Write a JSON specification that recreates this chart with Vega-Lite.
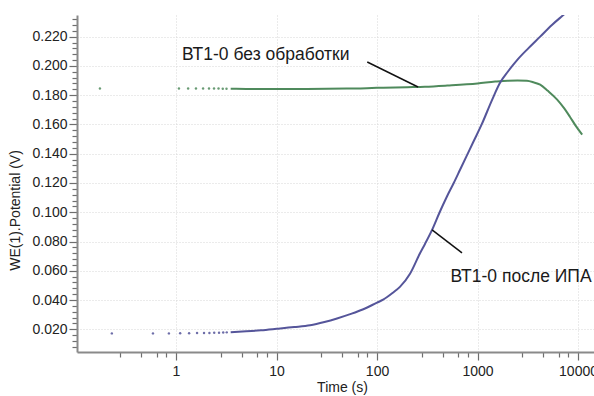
{
  "$schema": "https://vega.github.io/schema/vega-lite/v6.json",
  "width": 517,
  "height": 337,
  "autosize": {"type": "none"},
  "padding": {"left": 77, "top": 15, "right": 0, "bottom": 44},
  "background": "white",
  "config": {
    "view": {"stroke": null},
    "font": "Liberation Sans, Arial, sans-serif"
  },
  "datasets": {
    "curves": [
      {"series": "untreated", "kind": "dot", "t": 0.175, "v": 0.1845},
      {"series": "untreated", "kind": "dot", "t": 1.07, "v": 0.1845},
      {"series": "untreated", "kind": "dot", "t": 1.32, "v": 0.1845},
      {"series": "untreated", "kind": "dot", "t": 1.58, "v": 0.1845},
      {"series": "untreated", "kind": "dot", "t": 1.86, "v": 0.1845},
      {"series": "untreated", "kind": "dot", "t": 2.13, "v": 0.1845},
      {"series": "untreated", "kind": "dot", "t": 2.39, "v": 0.1845},
      {"series": "untreated", "kind": "dot", "t": 2.65, "v": 0.1845},
      {"series": "untreated", "kind": "dot", "t": 2.92, "v": 0.1844},
      {"series": "untreated", "kind": "dot", "t": 3.18, "v": 0.1844},
      {"series": "untreated", "kind": "line", "t": 3.5, "v": 0.1844},
      {"series": "untreated", "kind": "line", "t": 5, "v": 0.1843},
      {"series": "untreated", "kind": "line", "t": 10, "v": 0.1843},
      {"series": "untreated", "kind": "line", "t": 20, "v": 0.1843},
      {"series": "untreated", "kind": "line", "t": 50, "v": 0.1845},
      {"series": "untreated", "kind": "line", "t": 100, "v": 0.1850},
      {"series": "untreated", "kind": "line", "t": 200, "v": 0.1855},
      {"series": "untreated", "kind": "line", "t": 300, "v": 0.1858},
      {"series": "untreated", "kind": "line", "t": 500, "v": 0.1866},
      {"series": "untreated", "kind": "line", "t": 1000, "v": 0.1880},
      {"series": "untreated", "kind": "line", "t": 1500, "v": 0.1893},
      {"series": "untreated", "kind": "line", "t": 2000, "v": 0.1899},
      {"series": "untreated", "kind": "line", "t": 2500, "v": 0.1900},
      {"series": "untreated", "kind": "line", "t": 3100, "v": 0.1898},
      {"series": "untreated", "kind": "line", "t": 3600, "v": 0.1888},
      {"series": "untreated", "kind": "line", "t": 4200, "v": 0.1872},
      {"series": "untreated", "kind": "line", "t": 5000, "v": 0.1830},
      {"series": "untreated", "kind": "line", "t": 6200, "v": 0.1770},
      {"series": "untreated", "kind": "line", "t": 7200, "v": 0.1715},
      {"series": "untreated", "kind": "line", "t": 8300, "v": 0.1653},
      {"series": "untreated", "kind": "line", "t": 9500, "v": 0.1590},
      {"series": "untreated", "kind": "line", "t": 11000, "v": 0.1530},
      {"series": "ipa", "kind": "dot", "t": 0.23, "v": 0.0172},
      {"series": "ipa", "kind": "dot", "t": 0.59, "v": 0.0172},
      {"series": "ipa", "kind": "dot", "t": 0.85, "v": 0.0172},
      {"series": "ipa", "kind": "dot", "t": 1.1, "v": 0.0173},
      {"series": "ipa", "kind": "dot", "t": 1.35, "v": 0.0173},
      {"series": "ipa", "kind": "dot", "t": 1.62, "v": 0.0174},
      {"series": "ipa", "kind": "dot", "t": 1.9, "v": 0.0174},
      {"series": "ipa", "kind": "dot", "t": 2.15, "v": 0.0175},
      {"series": "ipa", "kind": "dot", "t": 2.4, "v": 0.0176},
      {"series": "ipa", "kind": "dot", "t": 2.68, "v": 0.0177},
      {"series": "ipa", "kind": "dot", "t": 2.95, "v": 0.0178},
      {"series": "ipa", "kind": "dot", "t": 3.2, "v": 0.0179},
      {"series": "ipa", "kind": "line", "t": 3.5, "v": 0.0180},
      {"series": "ipa", "kind": "line", "t": 5, "v": 0.0186},
      {"series": "ipa", "kind": "line", "t": 7, "v": 0.0193},
      {"series": "ipa", "kind": "line", "t": 10, "v": 0.0203},
      {"series": "ipa", "kind": "line", "t": 15, "v": 0.0215},
      {"series": "ipa", "kind": "line", "t": 21.6, "v": 0.0228},
      {"series": "ipa", "kind": "line", "t": 30, "v": 0.0250},
      {"series": "ipa", "kind": "line", "t": 40, "v": 0.0274},
      {"series": "ipa", "kind": "line", "t": 55, "v": 0.0305},
      {"series": "ipa", "kind": "line", "t": 72, "v": 0.0335},
      {"series": "ipa", "kind": "line", "t": 100, "v": 0.0382},
      {"series": "ipa", "kind": "line", "t": 115, "v": 0.0402},
      {"series": "ipa", "kind": "line", "t": 144, "v": 0.0450},
      {"series": "ipa", "kind": "line", "t": 169, "v": 0.0490},
      {"series": "ipa", "kind": "line", "t": 213, "v": 0.0580},
      {"series": "ipa", "kind": "line", "t": 267, "v": 0.0718},
      {"series": "ipa", "kind": "line", "t": 300, "v": 0.0783},
      {"series": "ipa", "kind": "line", "t": 353, "v": 0.0879},
      {"series": "ipa", "kind": "line", "t": 420, "v": 0.1000},
      {"series": "ipa", "kind": "line", "t": 495, "v": 0.1106},
      {"series": "ipa", "kind": "line", "t": 580, "v": 0.1200},
      {"series": "ipa", "kind": "line", "t": 670, "v": 0.1290},
      {"series": "ipa", "kind": "line", "t": 780, "v": 0.1385},
      {"series": "ipa", "kind": "line", "t": 900, "v": 0.1475},
      {"series": "ipa", "kind": "line", "t": 1100, "v": 0.1600},
      {"series": "ipa", "kind": "line", "t": 1400, "v": 0.1770},
      {"series": "ipa", "kind": "line", "t": 1680, "v": 0.1886},
      {"series": "ipa", "kind": "line", "t": 2000, "v": 0.1960},
      {"series": "ipa", "kind": "line", "t": 2500, "v": 0.2043},
      {"series": "ipa", "kind": "line", "t": 3200, "v": 0.2120},
      {"series": "ipa", "kind": "line", "t": 4200, "v": 0.2200},
      {"series": "ipa", "kind": "line", "t": 5500, "v": 0.2280},
      {"series": "ipa", "kind": "line", "t": 7400, "v": 0.2357},
      {"series": "ipa", "kind": "line", "t": 9000, "v": 0.2410}
    ],
    "leaders": [
      {"t1": 80, "v1": 0.2027, "t2": 256, "v2": 0.1856},
      {"t1": 353, "v1": 0.0879, "t2": 701, "v2": 0.0722}
    ],
    "labels": [
      {"t": 1.15, "v": 0.2040, "text": "ВТ1-0 без обработки"},
      {"t": 540, "v": 0.0523, "text": "ВТ1-0 после ИПА"}
    ]
  },
  "layer": [
    {
      "data": {"name": "curves"},
      "transform": [{"filter": "datum.kind == 'line'"}],
      "mark": {"type": "line", "strokeWidth": 2, "clip": true, "interpolate": "monotone"},
      "encoding": {
        "x": {
          "field": "t", "type": "quantitative",
          "scale": {"type": "log", "domain": [0.1035, 14420], "nice": false},
          "axis": {
            "title": "Time (s)",
            "values": [0.28, 0.45, 0.64, 0.8, 1, 2.8, 4.5, 6.4, 8, 10, 28, 45, 64, 80, 100, 280, 450, 640, 800, 1000, 2800, 4500, 6400, 8000, 10000],
            "tickCount": 200,
            "labelExpr": "abs(log(datum.value)/LN10 - round(log(datum.value)/LN10)) < 0.001 ? format(datum.value, 'd') : ''",
            "labelOverlap": false,
            "tickSize": {"condition": {"test": "abs(log(datum.value)/LN10 - round(log(datum.value)/LN10)) < 0.001", "value": 8}, "value": 5},
            "gridOpacity": {"condition": {"test": "abs(log(datum.value)/LN10 - round(log(datum.value)/LN10)) < 0.001", "value": 1}, "value": 0},
            "grid": true,
            "gridColor": "#d6d6d6",
            "gridDash": [1, 2],
            "gridWidth": 1,
            "domainColor": "#8a8a8a",
            "domainWidth": 2,
            "tickColor": "#6e6e6e",
            "tickWidth": 1.2,
            "labelFontSize": 14,
            "labelColor": "#222222",
            "labelPadding": 4,
            "labelFlush": false,
            "titleFontSize": 14,
            "titleFontWeight": "normal",
            "titleColor": "#222222",
            "titleBaseline": "top",
            "titleY": 28,
            "titleX": 265,
            "titleAlign": "center",
            "titleAnchor": "start"
          }
        },
        "y": {
          "field": "v", "type": "quantitative",
          "scale": {"domain": [0.00448, 0.2348], "nice": false, "zero": false},
          "axis": {
            "title": "WE(1).Potential (V)",
            "values": [0.008, 0.012, 0.016, 0.02, 0.024, 0.028, 0.032, 0.036, 0.04, 0.044, 0.048, 0.052, 0.056, 0.06, 0.064, 0.068, 0.072, 0.076, 0.08, 0.084, 0.088, 0.092, 0.096, 0.1, 0.104, 0.108, 0.112, 0.116, 0.12, 0.124, 0.128, 0.132, 0.136, 0.14, 0.144, 0.148, 0.152, 0.156, 0.16, 0.164, 0.168, 0.172, 0.176, 0.18, 0.184, 0.188, 0.192, 0.196, 0.2, 0.204, 0.208, 0.212, 0.216, 0.22, 0.224, 0.228, 0.232],
            "tickCount": 200,
            "labelExpr": "round(datum.value*1000) % 20 == 0 ? format(datum.value, '.3f') : ''",
            "labelOverlap": false,
            "tickSize": {"condition": {"test": "round(datum.value*1000) % 20 == 0", "value": 8}, "value": 5},
            "gridOpacity": {"condition": {"test": "round(datum.value*1000) % 20 == 0", "value": 1}, "value": 0},
            "grid": true,
            "gridColor": "#d6d6d6",
            "gridDash": [1, 2],
            "gridWidth": 1,
            "domainColor": "#8a8a8a",
            "domainWidth": 2,
            "tickColor": "#6e6e6e",
            "tickWidth": 1.2,
            "labelFontSize": 14,
            "labelColor": "#222222",
            "labelPadding": 2,
            "labelFlush": false,
            "titleFontSize": 14,
            "titleFontWeight": "normal",
            "titleColor": "#222222",
            "titleX": -55,
            "titleY": 195,
            "titleAngle": -90,
            "titleAlign": "center",
            "titleBaseline": "bottom",
            "titleAnchor": "start"
          }
        },
        "color": {
          "field": "series", "type": "nominal",
          "scale": {"domain": ["untreated", "ipa"], "range": ["#4f8a5c", "#55559a"]},
          "legend": null
        }
      }
    },
    {
      "data": {"name": "curves"},
      "transform": [{"filter": "datum.kind == 'dot'"}],
      "mark": {"type": "point", "filled": true, "size": 6, "opacity": 0.85},
      "encoding": {
        "x": {"field": "t", "type": "quantitative"},
        "y": {"field": "v", "type": "quantitative"},
        "color": {"field": "series", "type": "nominal", "legend": null}
      }
    },
    {
      "data": {"name": "leaders"},
      "mark": {"type": "rule", "color": "#111111", "strokeWidth": 1.5},
      "encoding": {
        "x": {"field": "t1", "type": "quantitative"},
        "y": {"field": "v1", "type": "quantitative"},
        "x2": {"field": "t2"},
        "y2": {"field": "v2"}
      }
    },
    {
      "data": {"name": "labels"},
      "mark": {"type": "text", "align": "left", "baseline": "alphabetic", "fontSize": 17.5, "color": "#1a1a1a"},
      "encoding": {
        "x": {"field": "t", "type": "quantitative"},
        "y": {"field": "v", "type": "quantitative"},
        "text": {"field": "text"}
      }
    }
  ]
}
